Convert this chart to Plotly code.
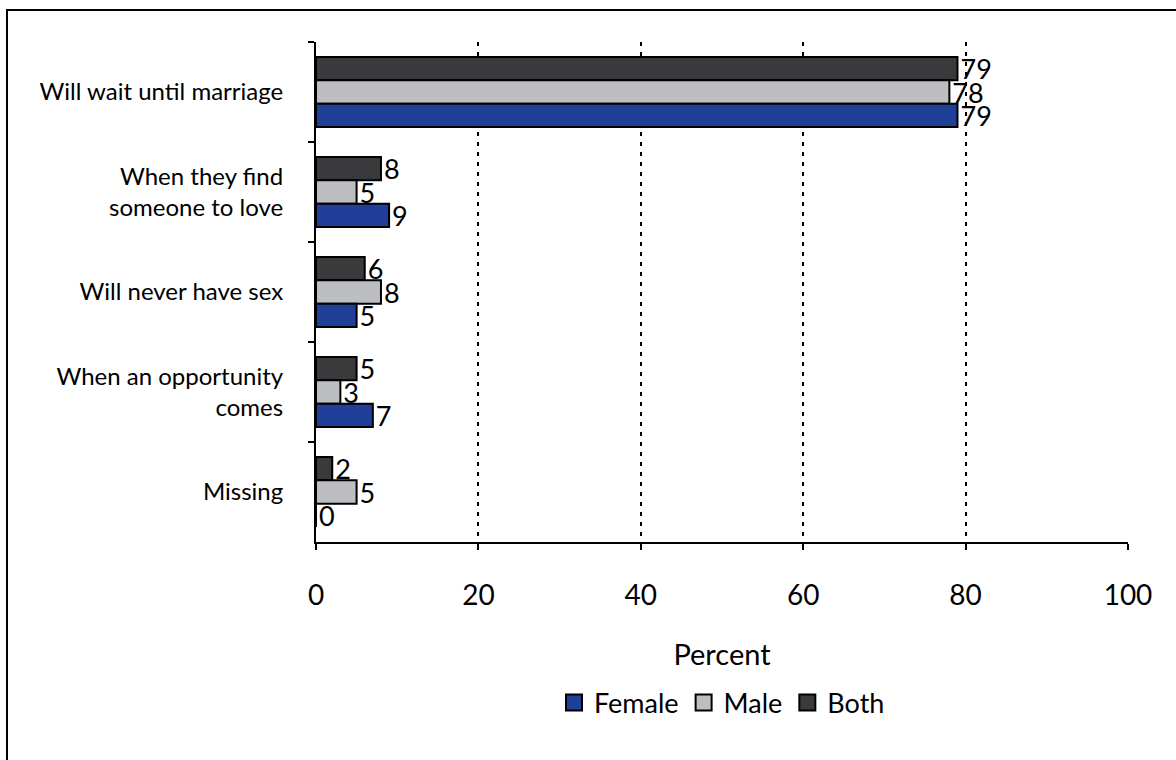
import plotly.graph_objects as go

# Categories, top to bottom
categories = [
    "Will wait until marriage",
    "When they find<br>someone to love",
    "Will never have sex",
    "When an opportunity<br>comes",
    "Missing",
]

# Percent values per group
female = [79, 9, 5, 7, 0]
male = [78, 5, 8, 3, 5]
both = [79, 8, 6, 5, 2]

x_ticks = [0, 20, 40, 60, 80, 100]

series = [
    ("Both", both, "#3a3a3c"),
    ("Male", male, "#bdbec2"),
    ("Female", female, "#1f3f99"),
]

FONT = "Lato, Calibri, sans-serif"

fig = go.Figure()

# Bars: first trace sits at the top of each group on the reversed axis
for name, vals, color in series:
    fig.add_trace(go.Bar(
        name=name,
        y=categories,
        x=vals,
        orientation="h",
        marker=dict(color=color, line=dict(color="#000000", width=2)),
        text=vals,
        texttemplate="%{x}",
        textposition="outside",
        textfont=dict(size=27, color="#000000", family=FONT),
        constraintext="none",
        cliponaxis=False,
        showlegend=False,
    ))

# Legend entries (square swatches), in Female, Male, Both order
for name, vals, color in reversed(series):
    fig.add_trace(go.Scatter(
        name=name,
        x=[None], y=[None],
        mode="markers",
        marker=dict(symbol="square", size=16, color=color,
                    line=dict(color="#000000", width=2)),
        showlegend=True,
    ))

fig.update_layout(
    width=1176,
    height=760,
    margin=dict(l=316, r=48, t=42, b=218),
    paper_bgcolor="#ffffff",
    plot_bgcolor="#ffffff",
    barmode="group",
    bargap=0.3,
    bargroupgap=0,
    font=dict(family=FONT, color="#000000"),
    legend=dict(
        orientation="h",
        x=0.5, xanchor="center",
        y=-0.322, yanchor="middle",
        font=dict(size=27, family=FONT, color="#000000"),
        itemwidth=30,
        traceorder="normal",
    ),
    xaxis=dict(
        range=[0, 100],
        tickvals=x_ticks,
        ticks="outside",
        ticklen=6,
        tickwidth=2,
        tickcolor="#000000",
        showline=True,
        linecolor="#000000",
        linewidth=2,
        showgrid=True,
        gridcolor="#000000",
        gridwidth=2,
        griddash="4px,6px",
        zeroline=False,
        tickfont=dict(size=28, family=FONT, color="#000000"),
        ticklabelstandoff=21,
        title=dict(text="Percent", font=dict(size=29, family=FONT, color="#000000"),
                   standoff=35),
        fixedrange=True,
    ),
    yaxis=dict(
        categoryorder="array",
        categoryarray=categories,
        autorange="reversed",
        tickson="boundaries",
        ticks="outside",
        ticklen=6,
        tickwidth=2,
        tickcolor="#000000",
        showline=True,
        linecolor="#000000",
        linewidth=2,
        showgrid=False,
        zeroline=False,
        tickfont=dict(size=24, family=FONT, color="#000000"),
        ticklabelstandoff=26,
        fixedrange=True,
    ),
    shapes=[
        dict(
            type="rect",
            xref="paper", yref="paper",
            x0=(7 - 316) / 812, x1=1.2,
            y0=-0.6, y1=(542 - 10) / 500,
            line=dict(color="#000000", width=2),
            fillcolor="rgba(0,0,0,0)",
            layer="below",
        )
    ],
)

fig.write_html("out.html")
